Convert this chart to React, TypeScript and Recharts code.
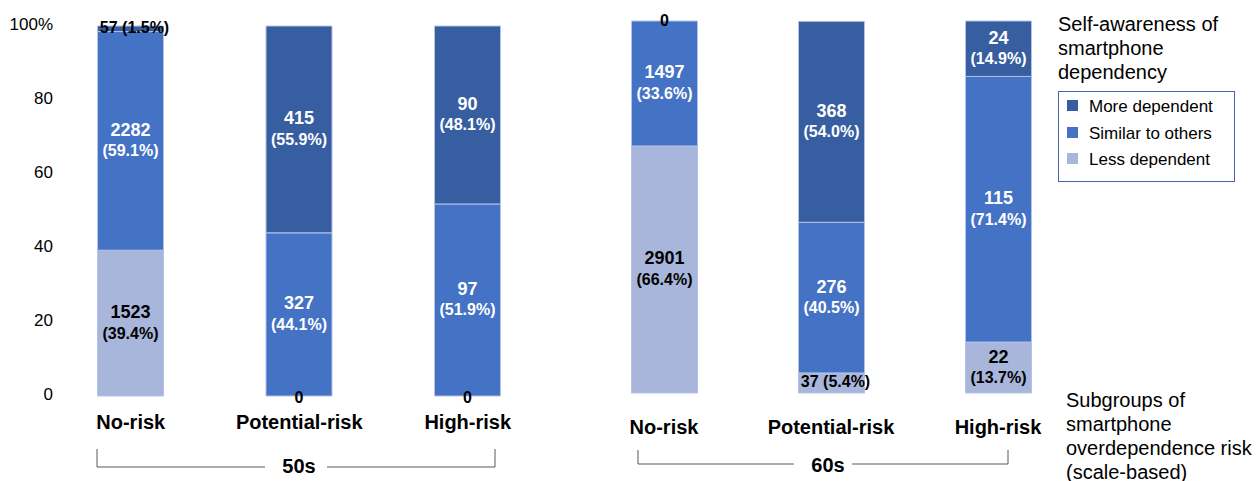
import React from "react";
import { BarChart, Bar, XAxis, YAxis, LabelList, Legend } from "recharts";

const riskGroups = ["No-risk", "Potential-risk", "High-risk"];
const yTicks = [0, 20, 40, 60, 80, 100];
const legendOrder = ["more", "similar", "less"];

// 50s: share of each answer (%) and counts
const less50 = [39.4, 0, 0];
const similar50 = [59.1, 44.1, 51.9];
const more50 = [1.5, 55.9, 48.1];
const lessN50 = [1523, 0, 0];
const similarN50 = [2282, 327, 97];
const moreN50 = [57, 415, 90];

// 60s
const less60 = [66.4, 5.4, 13.7];
const similar60 = [33.6, 40.5, 71.4];
const more60 = [0, 54.0, 14.9];
const lessN60 = [2901, 37, 22];
const similarN60 = [1497, 276, 115];
const moreN60 = [0, 368, 24];

const FONT = "'Liberation Sans', Arial, sans-serif";
const C_MORE = "#375ea1";
const C_SIMILAR = "#4472c4";
const C_LESS = "#a8b6db";
const C_EDGE = "#b3c2e6";

const build = (less: number[], similar: number[], more: number[], lessN: number[], similarN: number[], moreN: number[]) =>
  riskGroups.map((name, i) => ({
    name,
    less: less[i],
    similar: similar[i],
    more: more[i],
    lessN: lessN[i],
    similarN: similarN[i],
    moreN: moreN[i],
  }));

const data50 = build(less50, similar50, more50, lessN50, similarN50, moreN50);
const data60 = build(less60, similar60, more60, lessN60, similarN60, moreN60);

const base = { textAnchor: "middle" as const, dominantBaseline: "central" as const, fontFamily: FONT, fontWeight: "bold" };

// value passed to the label is "count|pct|lessCount|moreCount"
const segLabel = (dark: boolean, isSimilar: boolean) => (p: any) => {
  const vb = p.viewBox || p;
  const x = vb.x ?? p.x;
  const y = vb.y ?? p.y;
  const width = vb.width ?? p.width;
  const height = vb.height ?? p.height;
  const [nS, pctS, lessS, moreS] = String(p.value).split("|");
  const n = Number(nS);
  const pct = Number(pctS).toFixed(1);
  const cx = x + width / 2;
  const cy = y + height / 2;
  const zeros: React.ReactNode[] = [];
  if (isSimilar && Number(lessS) === 0)
    zeros.push(<text key="zl" x={cx} y={y + height + 1} {...base} fontSize={16} fill="#000">0</text>);
  if (isSimilar && Number(moreS) === 0)
    zeros.push(<text key="zm" x={cx} y={y - 1} {...base} fontSize={16} fill="#000">0</text>);
  let main: React.ReactNode;
  if (Math.abs(height) < 30) {
    main = (
      <text x={cx + 4} y={cy - 1} {...base} fontSize={16} fill="#000">
        {n} ({pct}%)
      </text>
    );
  } else {
    const fill = dark ? "#fff" : "#000";
    main = (
      <g>
        <text x={cx} y={cy - 11} {...base} fontSize={18} fill={fill}>{n}</text>
        <text x={cx} y={cy + 10} {...base} fontSize={16} fill={fill}>({pct}%)</text>
      </g>
    );
  }
  return (
    <g>
      {main}
      {zeros}
    </g>
  );
};

const tag = (key: string) => (d: any) => `${d[key + "N"]}|${d[key]}|${d.lessN}|${d.moreN}`;

const renderLegend = (props: any) => {
  const items = [...(props.payload || [])].sort(
    (a: any, b: any) => legendOrder.indexOf(a.dataKey) - legendOrder.indexOf(b.dataKey)
  );
  return (
    <div style={{ fontFamily: FONT, color: "#000" }}>
      <div style={{ fontSize: 20, lineHeight: "24px" }}>
        Self-awareness of
        <br />
        smartphone
        <br />
        dependency
      </div>
      <div
        style={{
          marginTop: 7,
          width: 175,
          height: 87,
          border: "1px solid #4565ad",
          boxSizing: "content-box",
          paddingTop: 2,
        }}
      >
        {items.map((it: any) => (
          <div key={it.value} style={{ display: "flex", alignItems: "center", height: 26.5, fontSize: 17 }}>
            <span style={{ width: 11, height: 11, background: it.color, marginLeft: 8, marginRight: 11, marginTop: -3 }} />
            <span>{it.value}</span>
          </div>
        ))}
      </div>
    </div>
  );
};

const tickStyle = { fontSize: 20, fontWeight: "bold", fill: "#000", fontFamily: FONT };

const series = (
  <>
    <Bar dataKey="less" stackId="a" fill={C_LESS} stroke={C_EDGE} strokeWidth={1} name="Less dependent" isAnimationActive={false}>
      <LabelList dataKey={tag("less")} content={segLabel(false, false)} />
    </Bar>
    <Bar dataKey="similar" stackId="a" fill={C_SIMILAR} stroke={C_EDGE} strokeWidth={1} name="Similar to others" isAnimationActive={false}>
      <LabelList dataKey={tag("similar")} content={segLabel(true, true)} />
    </Bar>
    <Bar dataKey="more" stackId="a" fill={C_MORE} stroke={C_EDGE} strokeWidth={1} name="More dependent" isAnimationActive={false}>
      <LabelList dataKey={tag("more")} content={segLabel(true, false)} />
    </Bar>
  </>
);

export default function App() {
  return (
    <div style={{ position: "absolute", left: 0, top: 0, width: 1257, height: 481, background: "#fff", fontFamily: FONT }}>
      <div style={{ position: "absolute", left: 0, top: 0 }}>
        <BarChart width={600} height={481} data={data50} margin={{ top: 26, right: 48, left: 1.5, bottom: 0 }} barSize={66}>
          <XAxis dataKey="name" axisLine={false} tickLine={false} height={85} interval={0} tick={tickStyle} tickMargin={13} />
          <YAxis
            domain={[0, 100]}
            ticks={yTicks}
            width={45}
            axisLine={false}
            tickLine={false}
            tickFormatter={(v: number) => (v === 100 ? "100%" : String(v))}
            tick={{ fontSize: 17, fill: "#000", fontFamily: FONT, dx: 14.5, dy: -2 }}
          />
          {series}
        </BarChart>
      </div>
      <div style={{ position: "absolute", left: 560, top: 0 }}>
        <BarChart width={697} height={481} data={data60} margin={{ top: 21, right: 175.5, left: 20.5, bottom: 0 }} barSize={66}>
          <XAxis dataKey="name" axisLine={false} tickLine={false} height={88} interval={0} tick={tickStyle} tickMargin={21} />
          <YAxis domain={[0, 100]} ticks={yTicks} hide />
          <Legend
            layout="vertical"
            align="center"
            verticalAlign="middle"
            content={renderLegend}
            wrapperStyle={{ left: 498, top: 12, width: 200, height: "auto" }}
          />
          {series}
        </BarChart>
      </div>
      <svg width={1257} height={481} style={{ position: "absolute", left: 0, top: 0, pointerEvents: "none" }}>
        <path d="M97 449 V467 H265 M327 467 H495 V449" stroke="#595959" strokeWidth={1} fill="none" />
        <text x={299} y={466} textAnchor="middle" dominantBaseline="central" fontSize={20} fontWeight="bold" fontFamily={FONT}>
          50s
        </text>
        <path d="M638 450 V464 H794 M852 464 H1008 V450" stroke="#595959" strokeWidth={1} fill="none" />
        <text x={828} y={465} textAnchor="middle" dominantBaseline="central" fontSize={20} fontWeight="bold" fontFamily={FONT}>
          60s
        </text>
      </svg>
      <div style={{ position: "absolute", left: 1066, top: 388, fontSize: 20, lineHeight: "24px", color: "#000" }}>
        Subgroups of
        <br />
        smartphone
        <br />
        overdependence risk
        <br />
        (scale-based)
      </div>
    </div>
  );
}
